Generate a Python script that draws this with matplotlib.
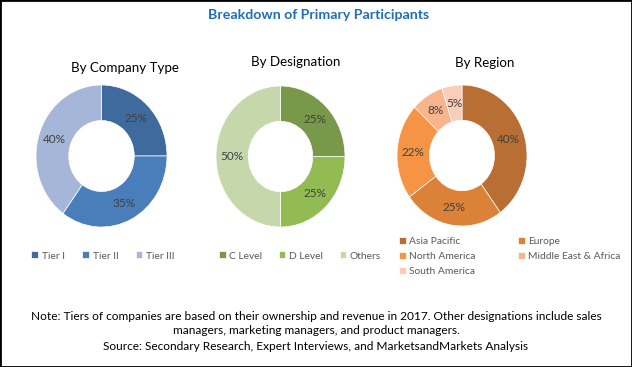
import matplotlib
matplotlib.use("Agg")
import matplotlib.pyplot as plt
from matplotlib.patches import Rectangle
import numpy as np

plt.rcParams['font.family'] = ['Lato', 'DejaVu Sans']

# ---- data ----
company_labels = ["Tier I", "Tier II", "Tier III"]
company_values = [25, 35, 40]
company_colors = ["#3F6A9E", "#4A7EBB", "#A5B6D8"]

designation_labels = ["C Level", "D Level", "Others"]
designation_values = [25, 25, 50]
designation_colors = ["#78994A", "#92BC52", "#C5D7AB"]

region_labels = ["Asia Pacific", "Europe", "North America", "Middle East & Africa", "South America"]
region_values = [40, 25, 22, 8, 5]
region_colors = ["#B96F33", "#DC8238", "#F69446", "#F8B48C", "#F9CDB8"]

title = "Breakdown of Primary Participants"
subtitles = ["By Company Type", "By Designation", "By Region"]
note_lines = [
    "Note: Tiers of companies are based on their ownership and revenue in 2017. Other designations include sales",
    "managers, marketing managers, and product managers.",
    "Source: Secondary Research, Expert Interviews, and MarketsandMarkets Analysis",
]

W, H = 632, 367
fig = plt.figure(figsize=(W / 100, H / 100), dpi=100)
fig.patch.set_facecolor("white")

def px_axes(left, top, right, bottom):
    return fig.add_axes([left / W, 1 - bottom / H, (right - left) / W, (bottom - top) / H])

def donut(ax, values, colors):
    wedges, _ = ax.pie(values, colors=colors, startangle=90, counterclock=False,
                       radius=1.0, wedgeprops=dict(width=0.5, edgecolor="white", linewidth=0.5))
    total = sum(values)
    cum = 0
    for v in values:
        mid = 90 - (cum + v / 2) / total * 360
        cum += v
        r = 0.75
        ax.text(r * np.cos(np.radians(mid)), r * np.sin(np.radians(mid)), f"{v}%",
                ha="center", va="center", fontsize=8.5, color="#404040")
    ax.set_xlim(-1, 1)
    ax.set_ylim(-1, 1)
    ax.set_aspect("auto")
    ax.axis("off")
    return wedges

ax1 = px_axes(36, 85, 167, 227)
w1 = donut(ax1, company_values, company_colors)
ax2 = px_axes(216, 86, 345, 227)
w2 = donut(ax2, designation_values, designation_colors)
ax3 = px_axes(397, 85, 527, 226)
w3 = donut(ax3, region_values, region_colors)

fig.text(319 / W, 1 - 15 / H, title, ha="center", va="center", fontsize=10.2,
         fontweight="bold", color="#1F6EB6")
fig.text(125 / W, 1 - 68 / H, subtitles[0], ha="center", va="center", fontsize=9.6, color="black")
fig.text(296 / W, 1 - 62 / H, subtitles[1], ha="center", va="center", fontsize=9.6, color="black")
fig.text(485 / W, 1 - 63 / H, subtitles[2], ha="center", va="center", fontsize=9.6, color="black")

leg_kw = dict(frameon=False, fontsize=7.4, handlelength=0.65, handleheight=0.65,
              handletextpad=0.35, labelcolor="#595959", borderpad=0, borderaxespad=0)
fig.legend(w1, company_labels, loc="center", bbox_to_anchor=(103 / W, 1 - 256 / H),
           ncol=3, columnspacing=1.7, **leg_kw)
fig.legend(w2, designation_labels, loc="center", bbox_to_anchor=(300 / W, 1 - 256 / H),
           ncol=3, columnspacing=1.6, **leg_kw)
order = [0, 2, 4, 1, 3]
fig.legend([w3[i] for i in order], [region_labels[i] for i in order], loc="upper left",
           bbox_to_anchor=(399 / W, 1 - 237 / H), ncol=2, columnspacing=4.1,
           labelspacing=0.6, **leg_kw)

for line, y in zip(note_lines, [316, 331, 347]):
    fig.text(316 / W, 1 - y / H, line, ha="center", va="center", fontsize=8.6, color="black")

fig.patches.append(Rectangle((0, 0), 1, 1, transform=fig.transFigure, fill=False,
                             edgecolor="black", linewidth=2, zorder=10))

fig.savefig("out.png", dpi=100, facecolor="white")
